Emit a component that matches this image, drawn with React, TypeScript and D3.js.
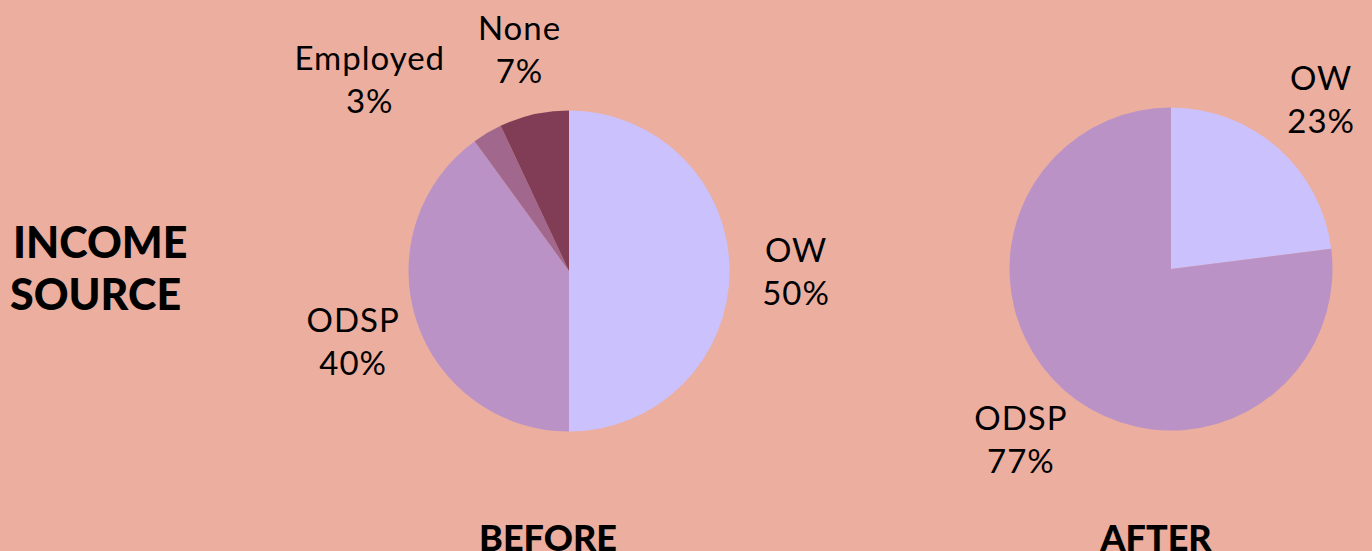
import React from "react";
import * as d3 from "d3";

const beforeCategories = ["OW", "ODSP", "Employed", "None"];
const beforeValues = [50, 40, 3, 7];
const afterCategories = ["OW", "ODSP"];
const afterValues = [23, 77];
const colors: Record<string, string> = {
  OW: "#cbc1fd",
  ODSP: "#ba92c6",
  Employed: "#a1678c",
  None: "#813d55",
};

const W = 1372;
const H = 551;
const FONT = "Lato, 'Open Sans', sans-serif";

function Pie({ cx, cy, r, cats, vals, title, titleX }: { cx: number; cy: number; r: number; cats: string[]; vals: number[]; title: string; titleX: number }) {
  const data = cats.map((c, i) => ({ c, v: vals[i] }));
  const pie = d3.pie<{ c: string; v: number }>().value((d) => d.v).sort(null);
  const arcs = pie(data);
  const arc = d3.arc<d3.PieArcDatum<{ c: string; v: number }>>().innerRadius(0).outerRadius(r);
  const labelR = 227;
  return (
    <g>
      <g transform={`translate(${cx},${cy})`}>
        {arcs.map((a) => (
          <path key={a.data.c} d={arc(a) || ""} fill={colors[a.data.c]} />
        ))}
        {arcs.map((a) => {
          let ang = (a.startAngle + a.endAngle) / 2;
          let rr = labelR;
          if (a.data.c === "Employed") {
            ang -= (15.4 * Math.PI) / 180;
            rr = 277;
          }
          const x = Math.sin(ang) * rr;
          const y = -Math.cos(ang) * rr;
          return (
            <text key={a.data.c} x={x} y={y} textAnchor="middle" fontFamily={FONT} fontSize={33} letterSpacing={1} fill="#000">
              <tspan x={x} dy={-9}>{a.data.c}</tspan>
              <tspan x={x} dy={43}>{a.data.v}%</tspan>
            </text>
          );
        })}
      </g>
      <text x={titleX} y={551} textAnchor="middle" fontFamily={FONT} fontWeight={900} fontSize={36} fill="#000">
        {title}
      </text>
    </g>
  );
}

export default function App() {
  return (
    <div style={{ position: "fixed", left: 0, top: 0 }}>
      <svg width={W} height={H} style={{ display: "block" }}>
        <rect width={W} height={H} fill="#ebae9f" />
        <text fontFamily={FONT} fontWeight={900} fontSize={43} fill="#000">
          <tspan x={13} y={258}>INCOME</tspan>
          <tspan x={10} y={310}>SOURCE</tspan>
        </text>
        <Pie cx={569} cy={271} r={160.5} cats={beforeCategories} vals={beforeValues} title="BEFORE" titleX={548} />
        <Pie cx={1171} cy={269} r={161.5} cats={afterCategories} vals={afterValues} title="AFTER" titleX={1156} />
      </svg>
    </div>
  );
}
